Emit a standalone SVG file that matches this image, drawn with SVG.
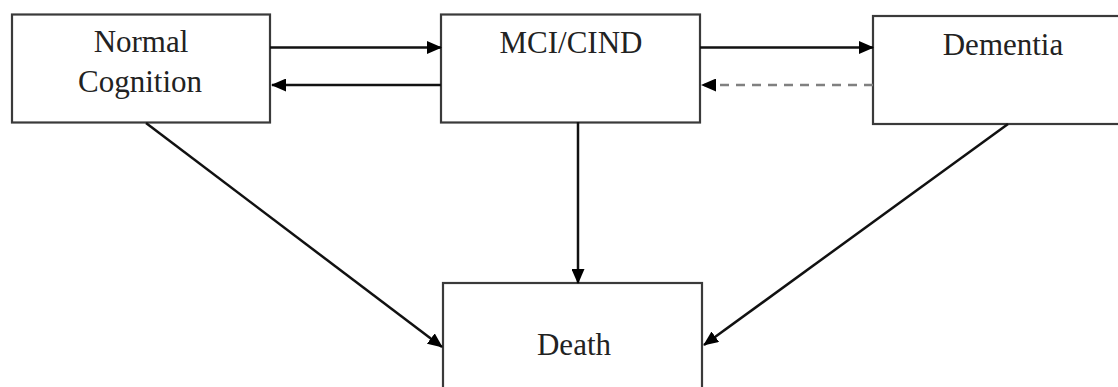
<svg xmlns="http://www.w3.org/2000/svg" width="1118" height="387" viewBox="0 0 1118 387">
<style>
.box{fill:#fff;stroke:#3a3a3a;stroke-width:2.2}
.lbl{font-family:"Liberation Serif",serif;font-size:31px;fill:#222;text-anchor:middle}
.arr{stroke:#111;stroke-width:2.5;fill:none;marker-end:url(#ah)}
.dash{stroke:#808080;stroke-width:2.5;fill:none;stroke-dasharray:9,7;marker-end:url(#ah)}
</style>
<defs>
<marker id="ah" markerWidth="15" markerHeight="13" refX="14" refY="6.5" orient="auto" markerUnits="userSpaceOnUse">
<path d="M0,0 L15,6.5 L0,13 Z" fill="#000"/>
</marker>
</defs>
<rect width="1118" height="387" fill="#fff"/>
<g id="normal"><rect class="box" x="12" y="14.5" width="258" height="108"/><text class="lbl" x="141" y="52">Normal</text><text class="lbl" x="140" y="92">Cognition</text></g>
<g id="mci"><rect class="box" x="441" y="14.5" width="259" height="108"/><text class="lbl" x="571" y="53">MCI/CIND</text></g>
<g id="dementia"><rect class="box" x="873" y="16" width="260" height="108"/><text class="lbl" x="1003" y="55">Dementia</text></g>
<g id="death"><rect class="box" x="443" y="283" width="259" height="120"/><text class="lbl" x="574" y="355">Death</text></g>
<g id="connectors">
<line class="arr" x1="270" y1="47.5" x2="441" y2="47.5"/>
<line class="arr" x1="441" y1="85" x2="272" y2="85"/>
<line class="arr" x1="700" y1="47.5" x2="873" y2="47.5"/>
<line class="dash" x1="873" y1="85" x2="702" y2="85"/>
<line class="arr" x1="578" y1="122" x2="578" y2="283"/>
<line class="arr" x1="146" y1="123" x2="442" y2="347"/>
<line class="arr" x1="1008" y1="124" x2="704" y2="345"/>
</g>
</svg>
